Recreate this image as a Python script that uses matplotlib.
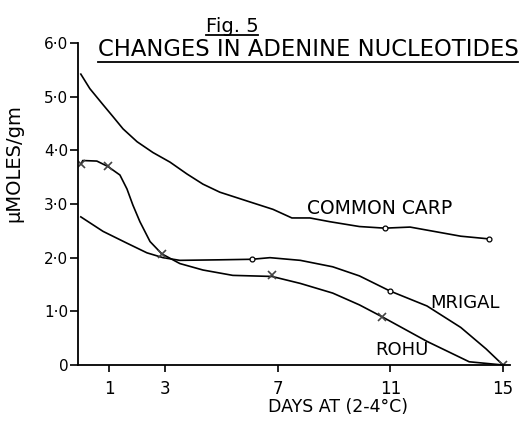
import matplotlib
matplotlib.use("Agg")
import matplotlib.pyplot as plt
from matplotlib.lines import Line2D

# ---- data ----
carp_days = [0, 0.32, 0.79, 1.14, 1.5, 2.0, 2.56, 3.17, 3.77, 4.34, 4.94, 6.0,
             6.83, 7.5, 8.14, 8.85, 9.9, 10.8, 11.7, 13.5, 14.5]
carp_vals = [5.42, 5.15, 4.85, 4.63, 4.4, 4.16, 3.96, 3.78, 3.56, 3.37, 3.22, 3.04,
             2.9, 2.74, 2.74, 2.67, 2.58, 2.55, 2.57, 2.4, 2.35]
carp_mark_days = [10.8, 14.5]
carp_mark_vals = [2.55, 2.35]

mrigal_days = [0, 0.79, 1.64, 2.35, 2.92, 3.52, 4.94, 6.08, 6.72, 7.8, 8.95,
               9.9, 10.98, 12.3, 13.5, 14.4, 15]
mrigal_vals = [2.76, 2.49, 2.27, 2.09, 2.0, 1.95, 1.96, 1.97, 2.0, 1.95, 1.83,
               1.66, 1.38, 1.1, 0.7, 0.3, 0.0]
mrigal_mark_days = [6.08, 10.98]
mrigal_mark_vals = [1.97, 1.38]

rohu_days = [0, 0.07, 0.57, 0.96, 1.39, 1.64, 1.85, 2.1, 2.46, 2.88, 3.52, 4.34,
             5.4, 6.79, 7.8, 8.95, 9.9, 10.7, 12.3, 13.8, 15]
rohu_vals = [3.74, 3.81, 3.8, 3.7, 3.54, 3.28, 2.98, 2.67, 2.3, 2.07, 1.89, 1.77,
             1.67, 1.65, 1.52, 1.34, 1.12, 0.9, 0.44, 0.06, 0.0]
rohu_mark_days = [0, 0.96, 2.88, 6.79, 10.7, 15]
rohu_mark_vals = [3.74, 3.7, 2.07, 1.67, 0.9, 0.0]

x_ticks = [1, 3, 7, 11, 15]
x_tick_labels = ["1", "3", "7", "11", "15"]
y_ticks = [0, 1, 2, 3, 4, 5, 6]
y_tick_labels = ["0", "1·0", "2·0", "3·0", "4·0", "5·0", "6·0"]

fig_title = "Fig. 5"
chart_title = "CHANGES IN ADENINE NUCLEOTIDES"
x_label = "DAYS AT (2-4°C)"
y_label = "µMOLES/gm"

plt.rcParams['font.family'] = ['DejaVu Sans']

W, H = 522, 421
fig = plt.figure(figsize=(W / 100, H / 100), dpi=100)
ax = fig.add_axes([78 / W, 56 / H, 432 / W, 322 / H])

lw = 1.2
ax.plot(carp_days, carp_vals, color='black', lw=lw)
ax.plot(carp_mark_days, carp_mark_vals, 'o', ms=3.5, mfc='white', mec='black', mew=0.9)
ax.plot(mrigal_days, mrigal_vals, color='black', lw=lw)
ax.plot(mrigal_mark_days, mrigal_mark_vals, 'o', ms=3.5, mfc='white', mec='black', mew=0.9)
ax.plot(rohu_days, rohu_vals, color='black', lw=lw)
ax.plot(rohu_mark_days, rohu_mark_vals, 'x', ms=6, color='#444444', mew=1.2)

ax.set_xlim(-0.1, 15.25)
ax.set_ylim(0, 6)
for s in ['top', 'right']:
    ax.spines[s].set_visible(False)
for s in ['left', 'bottom']:
    ax.spines[s].set_linewidth(1.3)

ax.set_xticks(x_ticks)
ax.set_xticklabels(x_tick_labels, fontsize=12)
ax.set_yticks(y_ticks)
ax.set_yticklabels(y_tick_labels, fontsize=11)
ax.tick_params(axis='x', direction='out', length=5, width=1.2, pad=6)
ax.tick_params(axis='y', direction='out', length=6, width=1.2, pad=1)

# curve labels
ax.text((307 - 78) / 432, (365 - 208) / 322, "COMMON CARP", fontsize=13.5,
        va='center', ha='left', transform=ax.transAxes)
ax.text((430 - 78) / 432, (365 - 303) / 322, "MRIGAL", fontsize=13,
        va='center', ha='left', transform=ax.transAxes)
ax.text((375 - 78) / 432, (365 - 350) / 322, "ROHU", fontsize=13,
        va='center', ha='left', transform=ax.transAxes)

# titles
t1 = fig.text(232 / W, 1 - 26 / H, fig_title, fontsize=14, ha='center', va='center')
t2 = fig.text(308 / W, 1 - 50 / H, chart_title, fontsize=16.3, ha='center', va='center')
fig.text(338 / W, 1 - 407 / H, x_label, fontsize=12.5, ha='center', va='center')
fig.text(14 / W, 1 - 163 / H, y_label, fontsize=14, ha='center', va='center', rotation=90)

# underlines for titles
fig.canvas.draw()
r = fig.canvas.get_renderer()
for t, gap in [(t1, 2), (t2, 3)]:
    bb = t.get_window_extent(renderer=r)
    yy = (bb.y0 - gap + 3) / H
    fig.add_artist(Line2D([bb.x0 / W, bb.x1 / W], [yy, yy], color='black', lw=1.3,
                          transform=fig.transFigure))

fig.savefig("out.png", dpi=100)
